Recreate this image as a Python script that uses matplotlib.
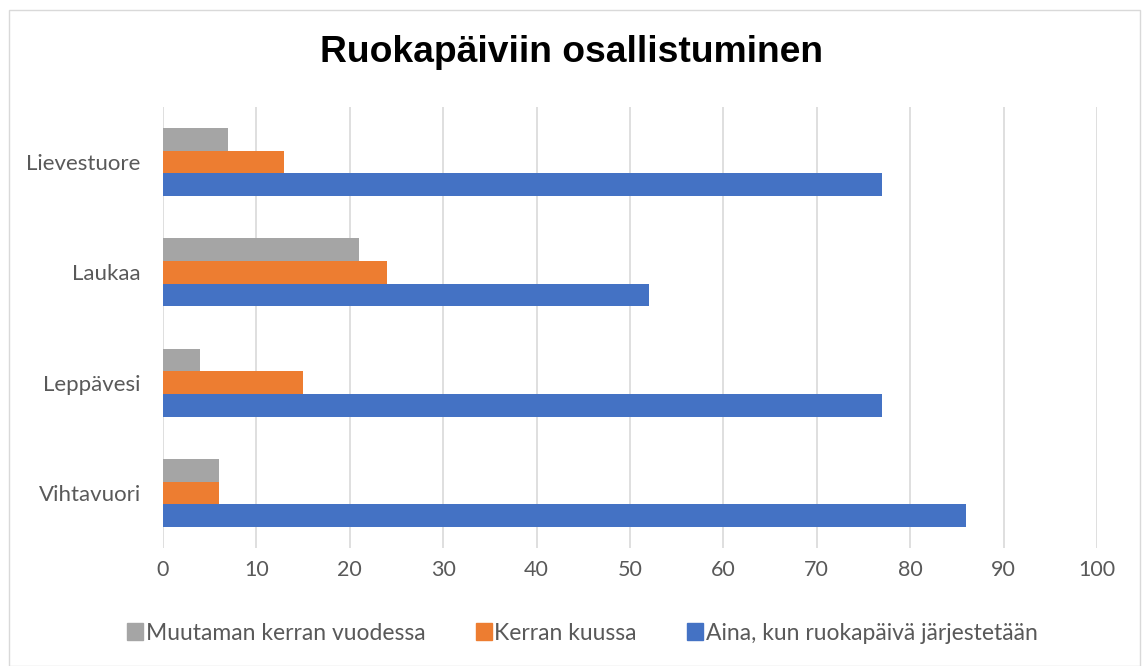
import matplotlib
matplotlib.use("Agg")
import matplotlib.pyplot as plt
from matplotlib.patches import Rectangle, Patch
import numpy as np

categories = ["Vihtavuori", "Leppävesi", "Laukaa", "Lievestuore"]
series_names = ["Aina, kun ruokapäivä järjestetään", "Kerran kuussa", "Muutaman kerran vuodessa"]
aina = [86, 77, 52, 77]
kerran_kuussa = [6, 15, 24, 13]
muutaman = [6, 4, 21, 7]
colors = ["#4472C4", "#ED7D31", "#A5A5A5"]
xticks = [0, 10, 20, 30, 40, 50, 60, 70, 80, 90, 100]

W, H = 1142, 666
fig = plt.figure(figsize=(W / 100, H / 100), dpi=100)
ax = fig.add_axes([163 / W, 1 - 548 / H, (1097 - 163) / W, (548 - 107) / H])

y = np.arange(len(categories))
bh = 0.205
for k, (vals, name, c) in enumerate(zip([aina, kerran_kuussa, muutaman], series_names, colors)):
    ax.barh(y + (k - 1) * bh, vals, height=bh, color=c, label=name, zorder=3)

ax.set_xlim(0, 100)
ax.set_ylim(-0.5, len(categories) - 0.5)
ax.set_xticks(xticks)
ax.set_yticks(y)
ax.set_yticklabels(categories)
ax.tick_params(axis="x", length=0, labelsize=15.5, labelcolor="#595959", pad=9)
ax.tick_params(axis="y", length=0, labelsize=16, labelcolor="#595959", pad=16)
ax.grid(axis="x", color="#D9D9D9", linewidth=1.2, zorder=0)
for s in ax.spines.values():
    s.set_visible(False)
for lab in ax.get_xticklabels() + ax.get_yticklabels():
    lab.set_family("Lato")

fig.text(0.5, 1 - 52 / H, "Ruokapäiviin osallistuminen", ha="center", va="center",
         fontsize=26.8, fontweight="bold", family="Liberation Sans")

handles = [Patch(color=colors[2]), Patch(color=colors[1]), Patch(color=colors[0])]
labels = [series_names[2], series_names[1], series_names[0]]
fig.legend(handles, labels, loc="center", bbox_to_anchor=(0.51, 1 - 633 / H), ncol=3,
           frameon=False, handlelength=0.7, handleheight=0.7, handletextpad=0.12,
           columnspacing=2.2, prop={"family": "Lato", "size": 16.5}, labelcolor="#595959")

fig.patches.append(Rectangle((9 / W, 0), (1140 - 9) / W, 1 - 10 / H, transform=fig.transFigure,
                             fill=False, edgecolor="#D9D9D9", linewidth=1))

fig.savefig("out.png", dpi=100)
